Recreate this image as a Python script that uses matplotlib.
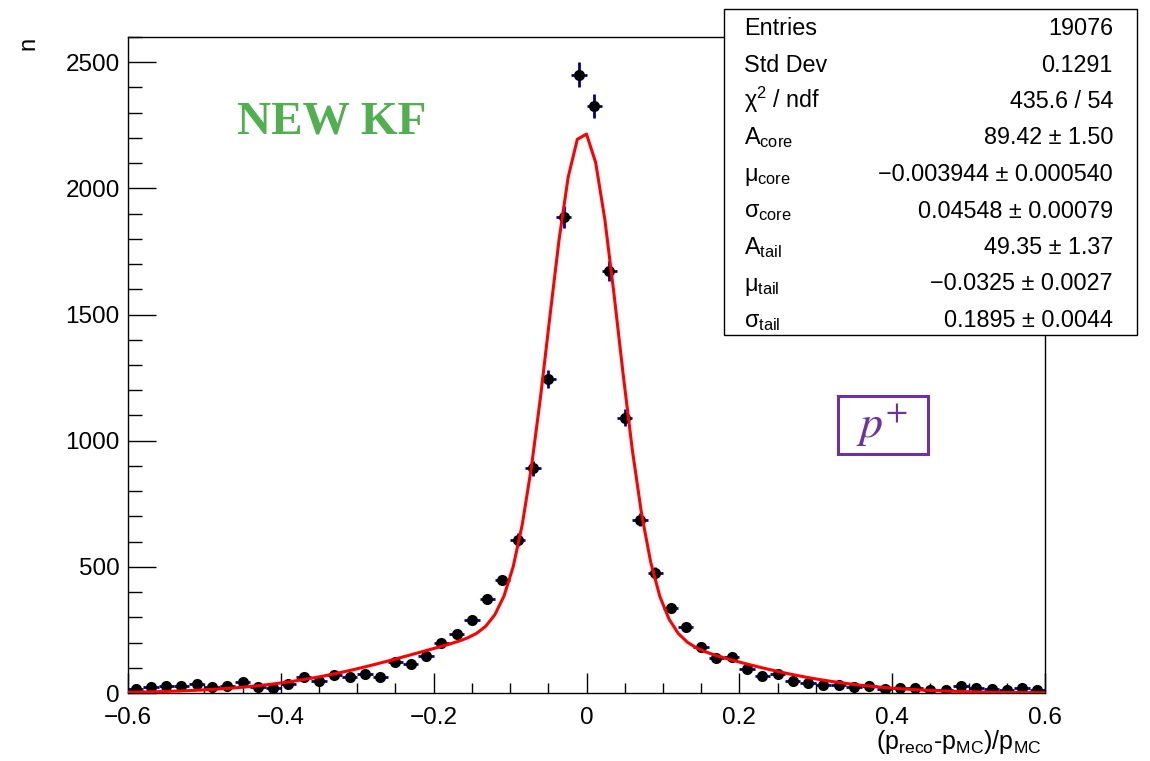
import numpy as np
import matplotlib
matplotlib.use("Agg")
import matplotlib.pyplot as plt
from matplotlib.patches import Rectangle
from matplotlib.ticker import MultipleLocator

# ---- histogram: relative momentum resolution, 60 bins on [-0.6, 0.6] ----
x_min, x_max, n_bins = -0.6, 0.6, 60
counts = [
    17, 24, 29, 29, 35, 23, 29, 42, 24, 21,
    36, 64, 47, 71, 64, 77, 65, 121, 114, 148,
    199, 232, 290, 374, 448, 608, 891, 1244, 1888, 2451,
    2326, 1673, 1091, 687, 477, 338, 260, 181, 137, 141,
    96, 69, 76, 47, 39, 33, 31, 25, 27, 15,
    18, 18, 10, 12, 28, 21, 15, 10, 21, 10,
]

# ---- double-Gaussian fit parameters ----
A_core, mu_core, sigma_core = 89.42, -0.003944, 0.04548
A_tail, mu_tail, sigma_tail = 49.35, -0.0325, 0.1895

stat_labels = ["Entries", "Std Dev", "χ$^{2}$ / ndf",
               "A$_{\\mathrm{core}}$", "μ$_{\\mathrm{core}}$", "σ$_{\\mathrm{core}}$",
               "A$_{\\mathrm{tail}}$", "μ$_{\\mathrm{tail}}$", "σ$_{\\mathrm{tail}}$"]
stat_values = ["19076", "0.1291", "435.6 / 54",
               "89.42 ± 1.50", "−0.003944 ± 0.000540", "0.04548 ± 0.00079",
               "49.35 ± 1.37", "−0.0325 ± 0.0027", "0.1895 ± 0.0044"]

y_max = 2600

plt.rcParams["font.family"] = ["Liberation Sans", "DejaVu Sans"]
plt.rcParams["mathtext.fontset"] = "custom"
plt.rcParams["mathtext.rm"] = "Liberation Sans"
plt.rcParams["mathtext.it"] = "Liberation Sans:italic"
plt.rcParams["mathtext.bf"] = "Liberation Sans:bold"

W, H = 1150, 761
fig = plt.figure(figsize=(W / 100, H / 100), dpi=100)
ax = fig.add_axes([128 / W, 1 - 693 / H, (1045 - 128) / W, (693 - 37) / H])

edges = np.linspace(x_min, x_max, n_bins + 1)
centers = 0.5 * (edges[:-1] + edges[1:])
half_w = 0.5 * (edges[1] - edges[0])
y = np.asarray(counts, dtype=float)
yerr = np.sqrt(y)


def fit_model(x):
    core = A_core / sigma_core * np.exp(-0.5 * ((x - mu_core) / sigma_core) ** 2)
    tail = A_tail / sigma_tail * np.exp(-0.5 * ((x - mu_tail) / sigma_tail) ** 2)
    return core + tail


ax.errorbar(centers, y, xerr=half_w, yerr=yerr, fmt="none",
            ecolor="#00008f", elinewidth=2.0, capsize=0, zorder=2)
ax.plot(centers, y, "o", color="black", ms=8, mew=0, zorder=3)

xf = np.linspace(x_min, x_max, 101)
ax.plot(xf, fit_model(xf), color="#ff0000", lw=2.2, zorder=4)

ax.set_xlim(x_min, x_max)
ax.set_ylim(0, y_max)
ax.xaxis.set_major_locator(MultipleLocator(0.2))
ax.xaxis.set_minor_locator(MultipleLocator(0.05))
ax.yaxis.set_major_locator(MultipleLocator(500))
ax.yaxis.set_minor_locator(MultipleLocator(100))
ax.tick_params(axis="both", which="both", direction="in", top=False, right=False,
               labelsize=17.5, width=1.0, color="black")
ax.tick_params(axis="x", which="major", length=14.2, pad=10)
ax.tick_params(axis="x", which="minor", length=7.2)
ax.tick_params(axis="y", which="major", length=19.8, pad=6)
ax.tick_params(axis="y", which="minor", length=10)
for s in ax.spines.values():
    s.set_linewidth(1.0)


def fmt_x(v, pos):
    if abs(v) < 1e-9:
        return "0"
    return f"{v:.1f}".replace("-", "\u2212")


ax.xaxis.set_major_formatter(plt.FuncFormatter(fmt_x))

# axis titles
fig.text(28 / W, 1 - 43 / H, "n", rotation=90, ha="center", va="center", fontsize=17)
fig.text(1042 / W, 1 - 749 / H,
         "(p$_{\\mathrm{reco}}$-p$_{\\mathrm{MC}}$)/p$_{\\mathrm{MC}}$",
         ha="right", va="baseline", fontsize=18)

# annotations
fig.text(332 / W, 1 - 122 / H, "NEW KF", ha="center", va="center",
         fontsize=34, fontweight="bold", family="Liberation Serif", color="#50b050")
fig.patches.append(Rectangle((838 / W, 1 - 454 / H), 90 / W, 58 / H,
                             transform=fig.transFigure, fill=False,
                             edgecolor="#7030a0", lw=2.2, zorder=5))
fig.text(882 / W, 1 - 426 / H, r"$p^{+}$", ha="center", va="center",
         fontsize=33, color="#7030a0", math_fontfamily="stix")

# statistics box
fig.patches.append(Rectangle((724 / W, 1 - 335 / H), (1137 - 724) / W, (335 - 9) / H,
                             transform=fig.transFigure, facecolor="white",
                             edgecolor="black", lw=1.0, zorder=10))
for i, (lab, val) in enumerate(zip(stat_labels, stat_values)):
    yb = 1 - (35 + 36.5 * i) / H
    fig.text(744 / W, yb, lab, ha="left", va="baseline", fontsize=16.8, zorder=11)
    fig.text(1113 / W, yb, val, ha="right", va="baseline", fontsize=16.8, zorder=11)

fig.savefig("out.png", dpi=100)
